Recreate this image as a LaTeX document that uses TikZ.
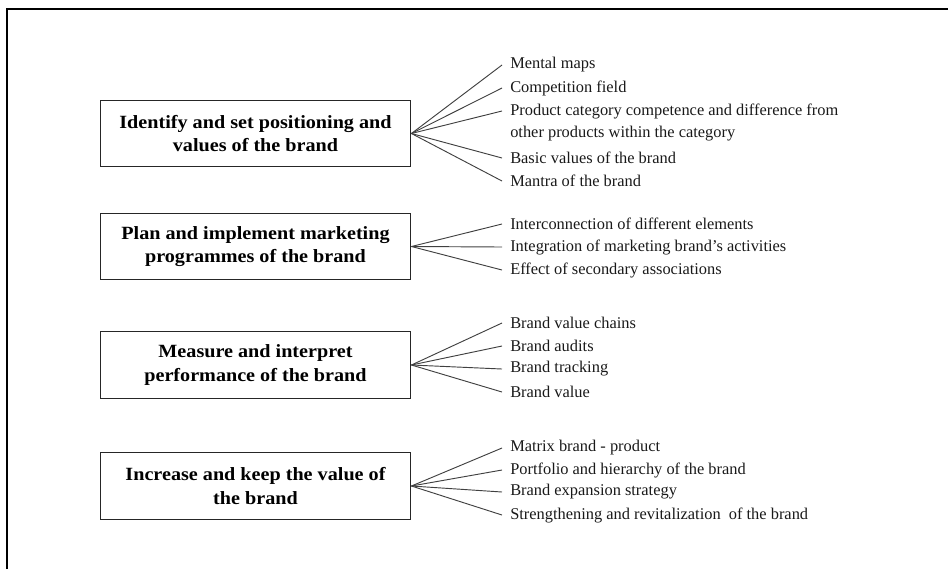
\documentclass[tikz,border=0pt]{standalone}
\usepackage{fontspec}
\setmainfont{Liberation Serif}
\newfontfamily\boxfont[FakeStretch=1.08]{Liberation Serif}
\usetikzlibrary{positioning}
\tikzset{
  stagebox/.style={
    rectangle, draw=black!85, line width=0.9pt,
    minimum width=233pt, minimum height=50pt,
    align=center,
    font=\boxfont\fontsize{14}{17.3}\selectfont\bfseries
  },
  itemtext/.style={
    anchor=west, inner sep=0pt, inner xsep=6pt,
    font=\fontsize{12.3}{14}\selectfont, text=black!90
  },
  fanline/.style={draw=black!75, line width=0.7pt},
}
\begin{document}
\begin{tikzpicture}[x=0.75pt,y=-0.75pt]
  \useasboundingbox (0,0) rectangle (948,569);
  % outer frame, open at right and bottom
  \draw[line width=2pt] (7,569) -- (7,9) -- (948,9);

  % stage boxes
  \node[stagebox](b1)at(255.5,133.5){Identify and set positioning and\\values of the brand};
  \node[stagebox](b2)at(255.5,246.5){Plan and implement marketing\\programmes of the brand};
  \node[stagebox](b3)at(255.5,365){Measure and interpret\\performance of the brand};
  \node[stagebox](b4)at(255.5,486){Increase and keep the value of\\the brand};

  % items of b1
  \node[itemtext](i11)at(502,65){Mental maps};
  \node[itemtext](i12)at(502,88){Competition field};
  \node[itemtext](i13)at(502,111){Product category competence and difference from};
  \node[itemtext](i13b)at(502,134){other products within the category};
  \node[itemtext](i14)at(502,158){Basic values of the brand};
  \node[itemtext](i15)at(502,181){Mantra of the brand};
  \draw[fanline](b1.east)--(i11.west);
  \draw[fanline](b1.east)--(i12.west);
  \draw[fanline](b1.east)--(i13.west);
  \draw[fanline](b1.east)--(i14.west);
  \draw[fanline](b1.east)--(i15.west);

  % items of b2
  \node[itemtext](i21)at(502,224){Interconnection of different elements};
  \node[itemtext](i22)at(502,247){Integration of marketing brand's activities};
  \node[itemtext](i23)at(502,270){Effect of secondary associations};
  \draw[fanline](b2.east)--(i21.west);
  \draw[fanline](b2.east)--(i22.west);
  \draw[fanline](b2.east)--(i23.west);

  % items of b3
  \node[itemtext](i31)at(502,323){Brand value chains};
  \node[itemtext](i32)at(502,346){Brand audits};
  \node[itemtext](i33)at(502,369){Brand tracking};
  \node[itemtext](i34)at(502,392){Brand value};
  \draw[fanline](b3.east)--(i31.west);
  \draw[fanline](b3.east)--(i32.west);
  \draw[fanline](b3.east)--(i33.west);
  \draw[fanline](b3.east)--(i34.west);

  % items of b4
  \node[itemtext](i41)at(502,448){Matrix brand - product};
  \node[itemtext](i42)at(502,470){Portfolio and hierarchy of the brand};
  \node[itemtext](i43)at(502,492){Brand expansion strategy};
  \node[itemtext](i44)at(502,515){Strengthening and revitalization\ \ of the brand};
  \draw[fanline](b4.east)--(i41.west);
  \draw[fanline](b4.east)--(i42.west);
  \draw[fanline](b4.east)--(i43.west);
  \draw[fanline](b4.east)--(i44.west);
\end{tikzpicture}
\end{document}
